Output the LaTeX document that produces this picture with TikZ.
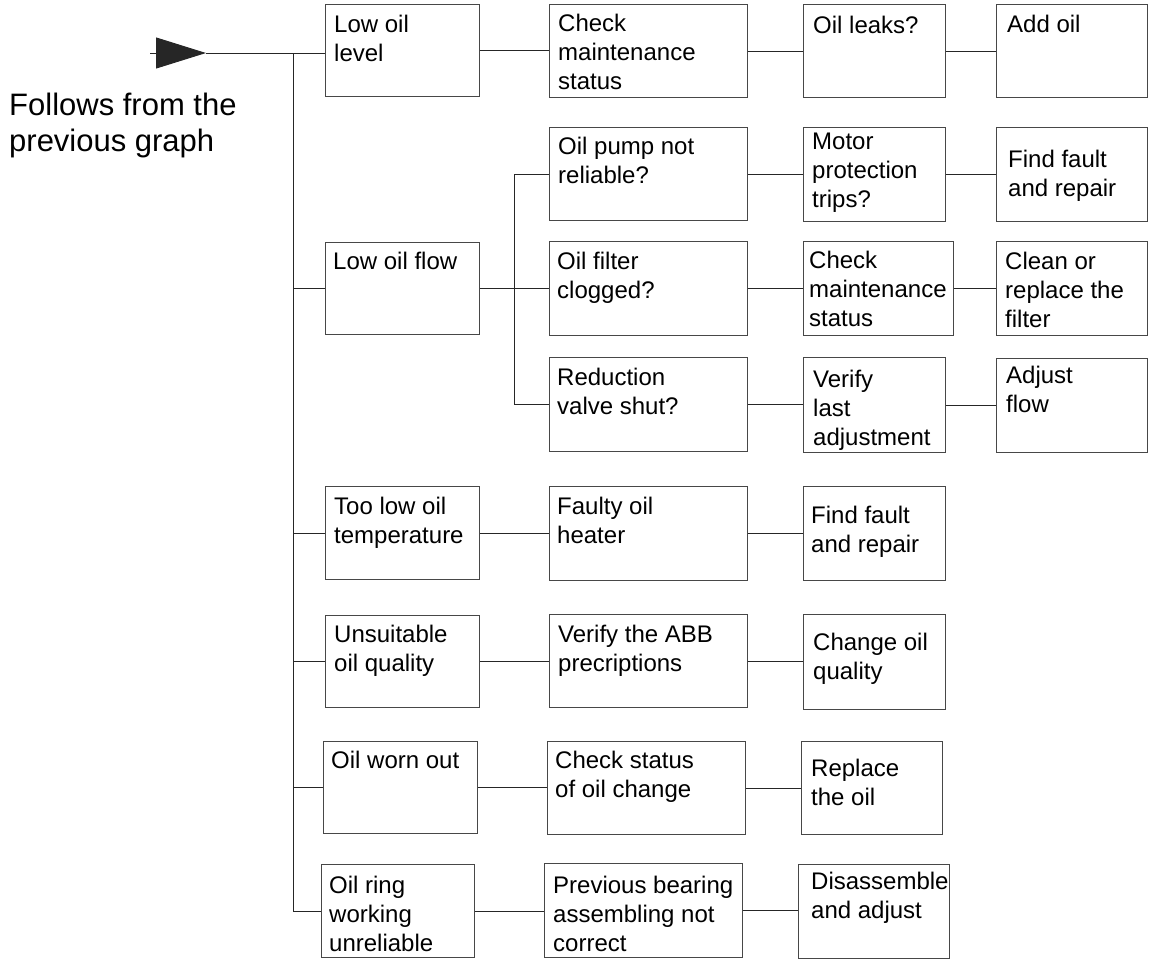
\documentclass[tikz,border=0pt]{standalone}
\usepackage{fontspec}
\setmainfont{Liberation Sans}
\usetikzlibrary{calc,arrows.meta}
\tikzset{
  box/.style={draw=black!72, line width=1.2pt, inner sep=0pt, anchor=north west, fill=none},
  txt/.style={inner sep=0pt, anchor=north west, align=left, font={\fontsize{24pt}{29pt}\selectfont}},
  bigtxt/.style={inner sep=0pt, anchor=north west, align=left, font={\fontsize{31pt}{36pt}\selectfont}},
  conn/.style={draw=black!85, line width=1pt},
}
% name, x1, y1, x2, y2, dx, dy(baseline), text
\newcommand{\bx}[8]{%
  \node[box, minimum width=#4pt-#2pt, minimum height=#5pt-#3pt] (#1) at (#2,#3) {};
  \node[txt] (#1t) at ($(#1.north west)+(#6,#7-18)$) {\rule{0pt}{18pt}#8};
}
\begin{document}
\begin{tikzpicture}[x=1pt,y=-1pt]
\useasboundingbox (0,0) rectangle (1152,967);
% row A
\bx{a1}{325}{4}{479}{96}{9}{28}{Low oil\\level}
\bx{a2}{549}{4}{747}{97}{9}{27}{Check\\maintenance\\status}
\bx{a3}{803}{4}{945}{97}{10}{29}{Oil leaks?}
\bx{a4}{996}{4}{1147}{97}{11}{28}{Add oil}
% row B
\bx{b2}{549}{127}{747}{220}{9}{27}{Oil pump not\\reliable?}
\bx{b3}{803}{127}{945}{221}{9}{22}{Motor\\protection\\trips?}
\bx{b4}{996}{127}{1147}{221}{12}{40}{Find fault\\and repair}
% row C
\bx{c1}{325}{242}{479}{334}{8}{27}{Low oil flow}
\bx{c2}{549}{241}{747}{335}{8}{28}{Oil filter\\clogged?}
\bx{c3}{803}{241}{953}{335}{6}{27}{Check\\maintenance\\status}
\bx{c4}{996}{241}{1147}{335}{9}{28}{Clean or\\replace the\\filter}
% row D
\bx{d2}{549}{357}{747}{451}{8}{28}{Reduction\\valve shut?}
\bx{d3}{803}{357}{945}{452}{10}{30}{Verify\\last\\adjustment}
\bx{d4}{996}{358}{1147}{452}{10}{25}{Adjust\\flow}
% row E
\bx{e1}{325}{486}{479}{579}{9}{28}{Too low oil\\temperature}
\bx{e2}{549}{486}{747}{580}{8}{28}{Faulty oil\\heater}
\bx{e3}{803}{486}{945}{580}{8}{37}{Find fault\\and repair}
% row F
\bx{f1}{325}{615}{479}{707}{9}{27}{Unsuitable\\oil quality}
\bx{f2}{549}{614}{747}{707}{9}{28}{Verify the ABB\\precriptions}
\bx{f3}{803}{614}{945}{709}{10}{36}{Change oil\\quality}
% row G
\bx{g1}{323}{741}{477}{833}{8}{27}{Oil worn out}
\bx{g2}{547}{741}{745}{834}{8}{27}{Check status\\of oil change}
\bx{g3}{801}{741}{942}{834}{10}{35}{Replace\\the oil}
% row H
\bx{h1}{321}{864}{474}{957}{8}{29}{Oil ring\\working\\unreliable}
\bx{h2}{544}{863}{742}{957}{9}{30}{Previous bearing\\assembling not\\correct}
\bx{h3}{798}{864}{949}{958}{13}{25}{Disassemble\\and adjust}
% left note
\node[bigtxt] (note) at (9,92) {\rule{0pt}{23pt}Follows from the\\previous graph};
% incoming arrow and main bus
\coordinate (in) at (150,53);
\coordinate (tip) at (206,53);
\coordinate (bt) at (293,53);
\coordinate (sx) at (514,0);
\draw[conn, -{Triangle[length=50pt,width=31pt]}, fill=black] (in) -- (tip);
\draw[conn] (tip) -- (a1.west |- tip);
\draw[conn] (bt) -- (bt |- h1.west) -- (h1.west);
\foreach \n in {c1,e1,f1,g1} { \draw[conn] (bt |- \n.west) -- (\n.west); }
% row connectors
\draw[conn] (a1.east) -- (a1.east -| a2.west);
\draw[conn] (a2.east) -- (a2.east -| a3.west);
\draw[conn] (a3.east) -- (a3.east -| a4.west);
\draw[conn] (b2.east) -- (b2.east -| b3.west);
\draw[conn] (b3.east) -- (b3.east -| b4.west);
\draw[conn] (c1.east) -- (c1.east -| c2.west);
\draw[conn] (c2.east) -- (c2.east -| c3.west);
\draw[conn] (c3.east) -- (c3.east -| c4.west);
\draw[conn] (b2.west) -- (b2.west -| sx) -- (d2.west -| sx) -- (d2.west);
\draw[conn] (d2.east) -- (d2.east -| d3.west);
\draw[conn] (d3.east) -- (d3.east -| d4.west);
\draw[conn] (e1.east) -- (e1.east -| e2.west);
\draw[conn] (e2.east) -- (e2.east -| e3.west);
\draw[conn] (f1.east) -- (f1.east -| f2.west);
\draw[conn] (f2.east) -- (f2.east -| f3.west);
\draw[conn] (g1.east) -- (g1.east -| g2.west);
\draw[conn] (g2.east) -- (g2.east -| g3.west);
\draw[conn] (h1.east) -- (h1.east -| h2.west);
\draw[conn] (h2.east) -- (h2.east -| h3.west);
\end{tikzpicture}
\end{document}
